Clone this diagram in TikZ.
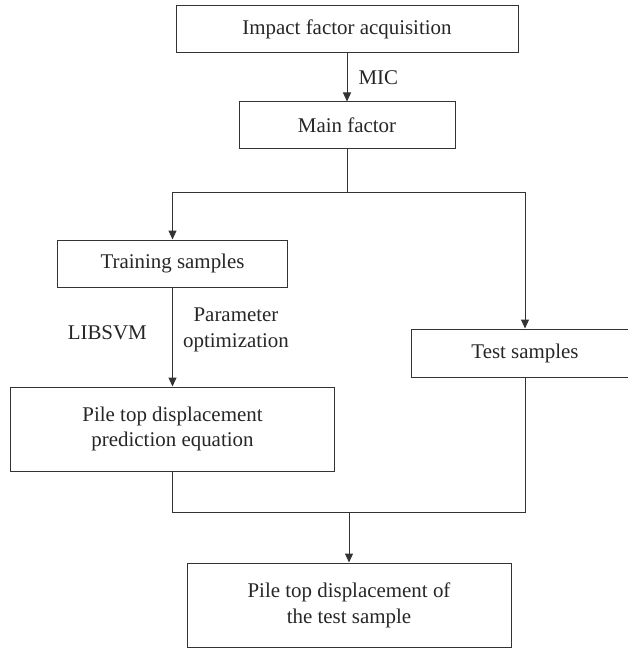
\documentclass[tikz,border=0pt]{standalone}
\usepackage{fontspec}
\setmainfont{Liberation Serif}
\usetikzlibrary{arrows.meta}
\definecolor{ln}{HTML}{333333}
\definecolor{tx}{HTML}{262626}
\begin{document}
\begin{tikzpicture}[x=1bp,y=-1bp,
  box/.style={draw=ln, line width=1bp, inner sep=0pt, align=center, text=tx,
    font=\fontsize{21}{26}\selectfont},
  lbl/.style={inner sep=0pt, align=center, text=tx, font=\fontsize{21}{26}\selectfont},
  arr/.style={draw=ln, line width=1bp, -{Triangle[length=9bp,width=8bp]}},
  ln/.style={draw=ln, line width=1bp}]
\useasboundingbox (0,0) rectangle (628,648);
\clip (0,0) rectangle (628,648);
\node[box, minimum width=342bp, minimum height=47bp] (b1) at (347,29.5) {Impact factor acquisition};
\node[box, minimum width=216bp, minimum height=47bp] (b2) at (347,125.5) {Main factor};
\node[box, minimum width=230bp, minimum height=47bp] (b3) at (172.5,263.5) {Training samples};
\node[box, minimum width=228bp, minimum height=48bp] (test) at (525,353) {Test samples};
\node[box, minimum width=324bp, minimum height=84bp] (b5) at (172.5,429) {Pile top displacement\\prediction equation};
\node[box, minimum width=324bp, minimum height=84bp] (b6) at (349,605) {Pile top displacement of\\the test sample};
\coordinate (split) at (347,192);
\coordinate (join) at (349,512);
\draw[arr] (b1) -- node[lbl, anchor=west, xshift=11bp] (mic) {MIC} (b2);
\draw[ln] (b2) -- (split);
\draw[arr] (split) -| (b3);
\draw[arr] (split) -| (test);
\draw[arr] (b3) -- (b5);
\node[lbl, anchor=east] (libsvm) at (147,333) {LIBSVM};
\node[lbl] (popt) at (236,330) {Parameter\\optimization};
\draw[ln] (b5.south) |- (join);
\draw[ln] (test.south) |- (join);
\draw[arr] (join) -- (b6);
\end{tikzpicture}
\end{document}
